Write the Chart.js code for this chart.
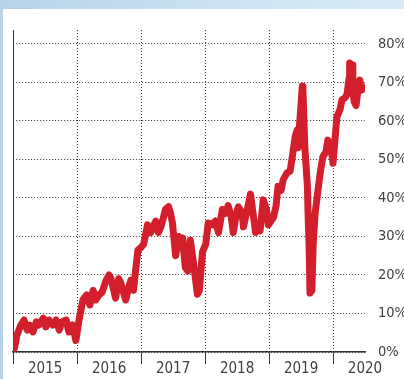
<!DOCTYPE html>
<html>
<head>
<meta charset="utf-8">
<script src="https://cdn.jsdelivr.net/npm/chart.js@4/dist/chart.umd.min.js"></script>
<style>
  html, body { margin: 0; padding: 0; }
  body { width: 404px; height: 379px; position: relative; overflow: hidden;
         background: linear-gradient(to right, #b7d3ea, #cfe4f2 60%, #d9ebf6); }
  #panel { position: absolute; left: 3px; top: 9px; right: 0; bottom: 0; background: #ffffff; }
  #wrap { position: absolute; left: 0; top: 0; width: 404px; height: 379px; }
</style>
</head>
<body>
<div id="panel"></div>
<div id="wrap"><canvas id="c" width="404" height="379"></canvas></div>
<script>
const years = [
  2015.02, 2015.06, 2015.12, 2015.17, 2015.22, 2015.26, 2015.31, 2015.36, 2015.40, 2015.47,
  2015.51, 2015.56, 2015.62, 2015.67, 2015.72, 2015.76, 2015.83, 2015.87, 2015.93, 2015.98,
  2016.03, 2016.09, 2016.15, 2016.20, 2016.25, 2016.29, 2016.34, 2016.39, 2016.45, 2016.50,
  2016.53, 2016.60, 2016.65, 2016.68, 2016.76, 2016.81, 2016.84, 2016.88, 2016.95, 2016.99,
  2017.04, 2017.10, 2017.15, 2017.20, 2017.23, 2017.27, 2017.31, 2017.35, 2017.38, 2017.43,
  2017.46, 2017.49, 2017.54, 2017.59, 2017.62, 2017.65, 2017.69, 2017.73, 2017.77, 2017.82,
  2017.88, 2017.91, 2017.96, 2018.01, 2018.05, 2018.12, 2018.16, 2018.21, 2018.27, 2018.32,
  2018.36, 2018.41, 2018.44, 2018.49, 2018.52, 2018.58, 2018.60, 2018.66, 2018.71, 2018.75,
  2018.79, 2018.83, 2018.86, 2018.91, 2018.96, 2018.99, 2019.03, 2019.07, 2019.11, 2019.14,
  2019.19, 2019.22, 2019.28, 2019.33, 2019.38, 2019.41, 2019.44, 2019.45, 2019.49, 2019.52,
  2019.53, 2019.56, 2019.60, 2019.61, 2019.63, 2019.64, 2019.67, 2019.69, 2019.72, 2019.75,
  2019.80, 2019.84, 2019.89, 2019.92, 2019.97, 2020.00, 2020.03, 2020.06, 2020.11, 2020.14,
  2020.19, 2020.22, 2020.25, 2020.26, 2020.30, 2020.31, 2020.33, 2020.36, 2020.39, 2020.42,
  2020.44, 2020.45
];
const shares = [
  1, 4.4, 7, 8.3, 5.7, 7, 5.2, 7.8, 7, 8.8,
  6.5, 8.3, 7, 8.3, 5.7, 7.8, 8.3, 5.2, 7, 3,
  8.3, 13.5, 14.8, 12.2, 16, 13.5, 14.8, 15.5, 18.5, 20,
  19, 14, 19, 18, 13.5, 17, 18.7, 16, 26.5, 27,
  28, 33, 31, 33, 34, 31, 32.5, 35, 37, 37.7,
  36, 33.5, 25, 30, 27, 29.6, 22, 21, 29, 23,
  15, 16, 26, 28, 33.5, 33, 34, 31, 37, 36,
  38, 35, 31, 36, 37.7, 36, 32.5, 37, 41, 36,
  31, 32, 31.5, 39.5, 37, 33, 34, 35, 38, 43,
  42, 44.7, 46.5, 47, 52.5, 56, 57.7, 53, 62, 69,
  68, 53, 43, 36, 25, 15.3, 16, 28, 36, 40,
  46.5, 50.6, 52, 55, 53, 49, 55, 61, 63, 65.5,
  66, 67, 71, 75, 74.5, 68, 65, 64, 68, 70.6,
  68, 69
];
const yearTicks = [2015, 2016, 2017, 2018, 2019, 2020];
const pctTicks = [0, 10, 20, 30, 40, 50, 60, 70, 80];

const FONT = "'Liberation Sans Narrow', 'DejaVu Sans Condensed', 'Roboto Condensed', 'Liberation Sans', sans-serif";

new Chart(document.getElementById('c'), {
  type: 'line',
  data: {
    datasets: [{
      data: years.map((y, i) => ({ x: y, y: shares[i] })),
      borderColor: '#d31f2b',
      borderWidth: 7,
      pointRadius: 0,
      tension: 0,
      borderJoinStyle: 'round',
      borderCapStyle: 'round',
      fill: false
    }]
  },
  options: {
    responsive: false,
    animation: false,
    devicePixelRatio: 1,
    layout: { padding: { left: 12, top: 30, right: 0, bottom: 0 } },
    plugins: { legend: { display: false }, tooltip: { enabled: false } },
    scales: {
      x: {
        type: 'linear',
        position: 'bottom',
        min: 2015,
        max: 2020.5,
        afterBuildTicks: s => { s.ticks = yearTicks.map(v => ({ value: v })); },
        afterFit: s => { s.height = 27; },
        grid: {
          color: '#333333',
          lineWidth: 1,
          drawTicks: true,
          tickLength: 12,
          tickColor: '#333333',
          tickWidth: 1,
          tickBorderDash: []
        },
        border: {
          display: true,
          color: '#333333',
          width: 1.5,
          dash: ctx => (ctx.tick && ctx.tick.value === 2015) ? [] : [1, 2]
        },
        ticks: {
          color: '#404040',
          font: { family: FONT, size: 15 },
          labelOffset: 32,
          padding: -4,
          maxRotation: 0,
          autoSkip: false,
          callback: v => String(v)
        }
      },
      y: {
        type: 'linear',
        position: 'right',
        min: 0,
        max: 83.6,
        afterBuildTicks: s => { s.ticks = pctTicks.map(v => ({ value: v })); },
        afterFit: s => { s.width = 39; },
        grid: {
          color: '#333333',
          lineWidth: 1,
          drawTicks: false
        },
        border: { display: false, dash: [1, 2] },
        ticks: {
          color: '#404040',
          font: { family: FONT, size: 14.5 },
          padding: 13,
          crossAlign: 'near',
          callback: v => v + '%'
        }
      }
    }
  }
});
</script>
</body>
</html>
